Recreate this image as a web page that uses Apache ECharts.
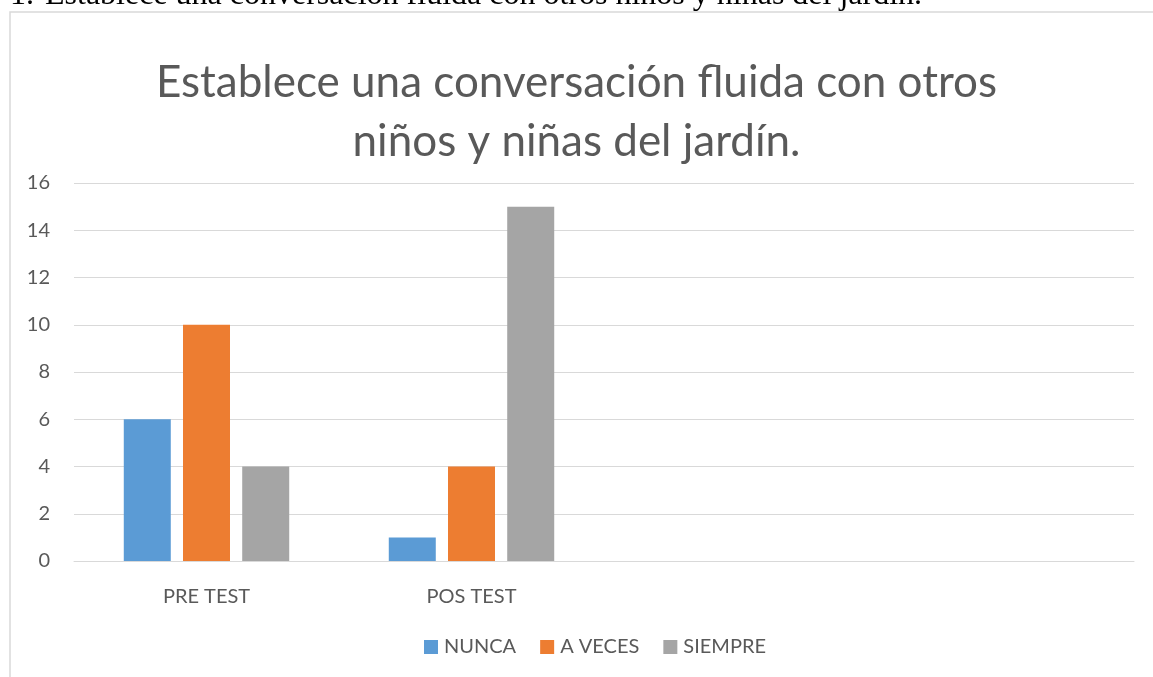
<!DOCTYPE html>
<html>
<head>
<meta charset="utf-8">
<script src="https://cdn.jsdelivr.net/npm/echarts@6/dist/echarts.min.js"></script>
<style>
  html, body { margin: 0; padding: 0; background: #fff; }
  #chart { width: 1153px; height: 677px; }
</style>
</head>
<body>
<div id="chart"></div>
<script>
// data
const categories = ["PRE TEST", "POS TEST", "", ""];
const nunca = [6, 1, null, null];
const aVeces = [10, 4, null, null];
const siempre = [4, 15, null, null];
const yTicks = [0, 2, 4, 6, 8, 10, 12, 14, 16];

const chart = echarts.init(document.getElementById("chart"));
const textColor = "#595959";
const font = "Lato";

const barSeries = (name, data, color) => ({
  name: name,
  type: "bar",
  data: data,
  barWidth: 47,
  barGap: "26%",
  itemStyle: { color: color },
  silent: true
});

chart.setOption({
  animation: false,
  textStyle: { fontFamily: font },
  title: {
    text: "Establece una conversación fluida con otros\nniños y niñas del jardín.",
    left: "center",
    top: 48,
    textStyle: {
      fontFamily: font,
      fontSize: 44,
      fontWeight: "normal",
      color: textColor,
      lineHeight: 59
    }
  },
  legend: {
    bottom: 15,
    left: 419,
    itemWidth: 14,
    itemHeight: 14,
    itemGap: 24,
    icon: "rect",
    textStyle: { fontSize: 20, color: textColor, fontFamily: font, padding: [0, 0, 0, 1] },
    data: ["NUNCA", "A VECES", "SIEMPRE"]
  },
  grid: { left: 74, right: 19, top: 183, bottom: 116 },
  xAxis: {
    type: "category",
    data: categories,
    axisLine: { lineStyle: { color: "#d9d9d9", width: 1 } },
    axisTick: { show: false },
    axisLabel: { color: textColor, fontSize: 20, margin: 26 }
  },
  yAxis: {
    type: "value",
    min: yTicks[0],
    max: yTicks[yTicks.length - 1],
    interval: 2,
    axisLine: { show: false },
    axisTick: { show: false },
    axisLabel: { color: textColor, fontSize: 20, margin: 24 },
    splitLine: { lineStyle: { color: "#d9d9d9", width: 1 } }
  },
  series: [
    barSeries("NUNCA", nunca, "#5b9bd5"),
    barSeries("A VECES", aVeces, "#ed7d31"),
    barSeries("SIEMPRE", siempre, "#a5a5a5")
  ],
  graphic: [
    {
      type: "rect",
      shape: { x: 10, y: 12, width: 1160, height: 700 },
      style: { fill: null, stroke: "#d9d9d9", lineWidth: 1.5 },
      silent: true
    },
    {
      type: "text",
      left: 10,
      top: -20,
      style: {
        text: "1.",
        font: "32px 'Liberation Serif'",
        fill: "#000"
      },
      silent: true
    },
    {
      type: "text",
      left: 45,
      top: -20,
      style: {
        text: "Establece una conversación fluida con otros niños y niñas del jardín.",
        font: "32px 'Liberation Serif'",
        fill: "#000"
      },
      silent: true
    }
  ]
});
</script>
</body>
</html>
